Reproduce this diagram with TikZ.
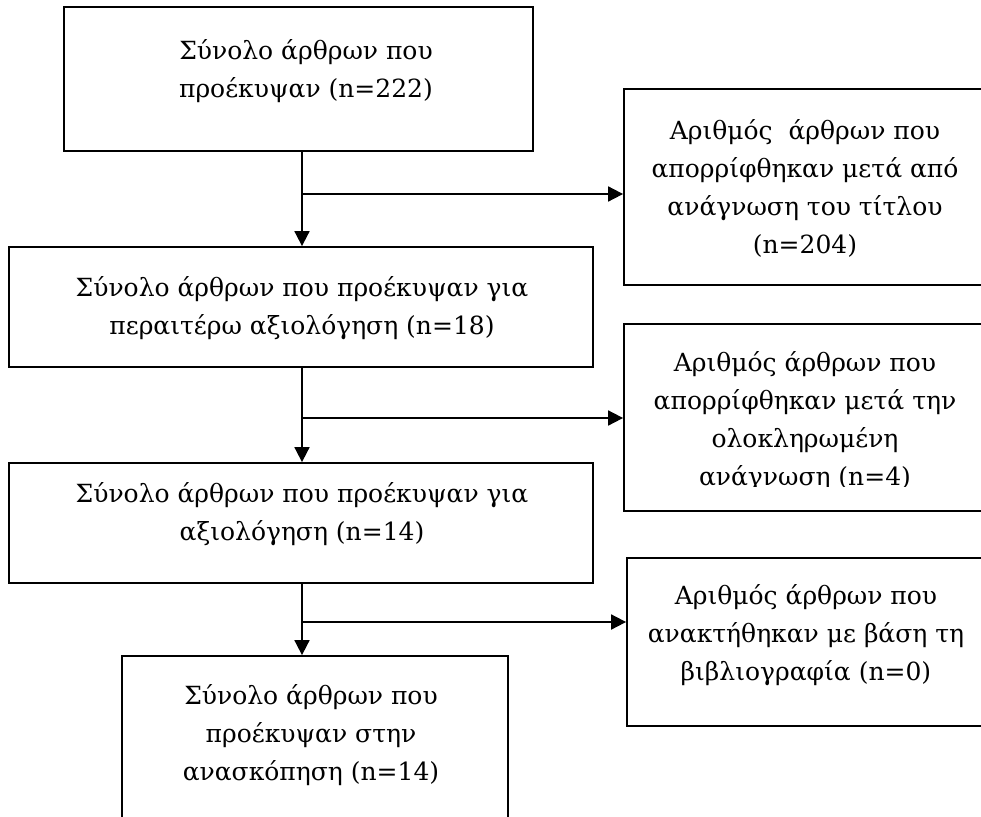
\documentclass[tikz,border=0pt]{standalone}
\usepackage{fontspec}
\setmainfont{DejaVu Serif}
\usetikzlibrary{arrows.meta}
\begin{document}
\begin{tikzpicture}[x=1pt,y=-1pt,
  box/.style={draw, line width=1.8pt, inner sep=0pt},
  txt/.style={align=center, inner sep=0pt, font=\fontsize{25}{38}\selectfont},
  arr/.style={line width=1.8pt, -{Triangle[length=15pt,width=15pt]}}]
\clip (0,0) rectangle (981,816);
\fill[white] (0,0) rectangle (981,816);
% left column boxes
\node[box, minimum width=469pt, minimum height=144pt] (b1) at (298.5,79) {};
\node[box, minimum width=584pt, minimum height=120pt] (b2) at (301,307) {};
\node[box, minimum width=584pt, minimum height=120pt] (b3) at (301,523) {};
\node[box, minimum width=386pt, minimum height=190pt] (b4) at (315,751) {};
% right column boxes
\node[box, minimum width=371pt, minimum height=196pt] (r1) at (809.5,187) {};
\node[box, minimum width=371pt, minimum height=187pt] (r2) at (809.5,417.5) {};
\node[box, minimum width=368pt, minimum height=168pt] (r3) at (811,642) {};
% texts
\node[txt] (t1) at (306,71) {Σύνολο άρθρων που\\προέκυψαν (n=222)};
\node[txt] (t2) at (302,308) {Σύνολο άρθρων που προέκυψαν για\\περαιτέρω αξιολόγηση (n=18)};
\node[txt] (t3) at (302,514) {Σύνολο άρθρων που προέκυψαν για\\αξιολόγηση (n=14)};
\node[txt] (t4) at (311,735) {Σύνολο άρθρων που\\προέκυψαν στην\\ανασκόπηση (n=14)};
\node[txt] (tr1) at (805,188) {Αριθμός~ άρθρων που\\απορρίφθηκαν μετά από\\ανάγνωση του τίτλου\\(n=204)};
\begin{scope}
\clip (624,324) rectangle (995,486);
\node[txt] (tr2) at (805,421) {Αριθμός άρθρων που\\απορρίφθηκαν μετά την\\ολοκληρωμένη\\ανάγνωση (n=4)};
\end{scope}
\node[txt] (tr3) at (806,635) {Αριθμός άρθρων που\\ανακτήθηκαν με βάση τη\\βιβλιογραφία (n=0)};
% connectors
\coordinate (j1) at (302,194);
\coordinate (j2) at (302,418);
\coordinate (j3) at (302,622);
\draw[arr] (b1.south -| j1) -- (b2.north -| j1);
\draw[arr] (j1) -- (r1.west |- j1);
\draw[arr] (b2.south -| j2) -- (b3.north -| j2);
\draw[arr] (j2) -- (r2.west |- j2);
\draw[arr] (b3.south -| j3) -- (b4.north -| j3);
\draw[arr] (j3) -- (r3.west |- j3);
\end{tikzpicture}
\end{document}
